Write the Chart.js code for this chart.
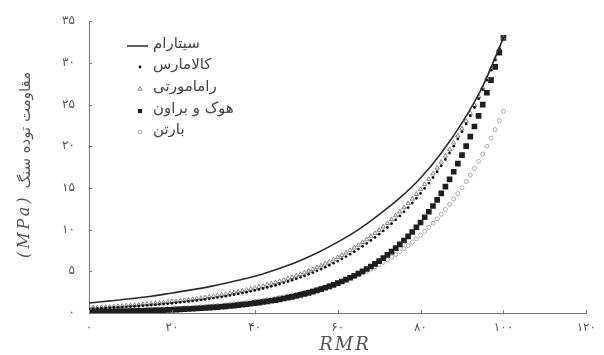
<!DOCTYPE html>
<html lang="fa">
<head>
  <meta charset="UTF-8">
  <title>RMR chart</title>
  <script src="https://cdn.jsdelivr.net/npm/chart.js"></script>
  <style>
    body {
      margin: 0;
      background: #fff;
    }
    #wrap {
      width: 604px;
      height: 355px;
    }
  </style>
</head>
<body>
  <div id="wrap"><canvas id="rmrChart" width="604" height="355"></canvas></div>

  <script>
    // RMR values (x) for the marker series
    const rmr = [
      0, 1, 2, 3, 4, 5, 6, 7, 8, 9,
      10, 11, 12, 13, 14, 15, 16, 17, 18, 19,
      20, 21, 22, 23, 24, 25, 26, 27, 28, 29,
      30, 31, 32, 33, 34, 35, 36, 37, 38, 39,
      40, 41, 42, 43, 44, 45, 46, 47, 48, 49,
      50, 51, 52, 53, 54, 55, 56, 57, 58, 59,
      60, 61, 62, 63, 64, 65, 66, 67, 68, 69,
      70, 71, 72, 73, 74, 75, 76, 77, 78, 79,
      80, 81, 82, 83, 84, 85, 86, 87, 88, 89,
      90, 91, 92, 93, 94, 95, 96, 97, 98, 99,
      100
    ];

    // Sitharam (solid line)
    const sitharamRmr = [0, 5, 10, 15, 20, 25, 30, 35, 40, 45, 50, 55, 60, 65, 70, 75, 80, 85, 90, 95, 100];
    const sitharam = [1.2, 1.45, 1.7, 2.0, 2.4, 2.8, 3.25, 3.8, 4.4, 5.2, 6.1, 7.2, 8.5, 10.0, 11.8, 13.8, 16.2, 19.2, 22.8, 27.2, 33.0];

    // Kalamaras (small dots)
    const kalamaras = [
      0.51, 0.53, 0.56, 0.58, 0.60, 0.63, 0.66, 0.68, 0.71, 0.74,
      0.78, 0.81, 0.84, 0.88, 0.92, 0.96, 1.00, 1.04, 1.08, 1.13,
      1.18, 1.23, 1.28, 1.33, 1.39, 1.45, 1.51, 1.57, 1.64, 1.71,
      1.78, 1.86, 1.94, 2.02, 2.11, 2.20, 2.29, 2.39, 2.49, 2.60,
      2.71, 2.82, 2.94, 3.07, 3.20, 3.33, 3.48, 3.62, 3.78, 3.94,
      4.11, 4.28, 4.46, 4.65, 4.85, 5.06, 5.27, 5.50, 5.73, 5.98,
      6.23, 6.50, 6.77, 7.06, 7.36, 7.67, 8.00, 8.34, 8.70, 9.07,
      9.45, 9.85, 10.27, 10.71, 11.17, 11.64, 12.14, 12.65, 13.19, 13.75,
      14.34, 14.95, 15.58, 16.25, 16.94, 17.66, 18.41, 19.19, 20.01, 20.86,
      21.75, 22.68, 23.64, 24.65, 25.70, 26.79, 27.93, 29.12, 30.36, 31.65,
      33.00
    ];

    // Ramamurthy (open triangles)
    const ramamurthy = [
      0.60, 0.63, 0.65, 0.68, 0.71, 0.74, 0.77, 0.80, 0.83, 0.87,
      0.90, 0.94, 0.98, 1.02, 1.06, 1.10, 1.15, 1.19, 1.24, 1.29,
      1.35, 1.40, 1.46, 1.52, 1.58, 1.64, 1.71, 1.78, 1.85, 1.93,
      2.01, 2.09, 2.17, 2.26, 2.36, 2.45, 2.55, 2.66, 2.76, 2.88,
      2.99, 3.12, 3.24, 3.38, 3.51, 3.66, 3.81, 3.96, 4.12, 4.29,
      4.47, 4.65, 4.84, 5.04, 5.24, 5.46, 5.68, 5.91, 6.15, 6.40,
      6.66, 6.94, 7.22, 7.51, 7.82, 8.14, 8.47, 8.82, 9.18, 9.55,
      9.94, 10.35, 10.77, 11.21, 11.67, 12.14, 12.64, 13.15, 13.69, 14.25,
      14.83, 15.43, 16.06, 16.72, 17.40, 18.11, 18.85, 19.62, 20.42, 21.25,
      22.12, 23.02, 23.96, 24.94, 25.96, 27.02, 28.12, 29.27, 30.46, 31.71,
      33.00
    ];

    // Hoek & Brown (filled squares)
    const hoekBrown = [
      0.13, 0.13, 0.14, 0.15, 0.16, 0.17, 0.18, 0.19, 0.20, 0.21,
      0.22, 0.23, 0.25, 0.26, 0.28, 0.29, 0.31, 0.33, 0.35, 0.37,
      0.39, 0.41, 0.43, 0.46, 0.48, 0.51, 0.54, 0.57, 0.60, 0.64,
      0.67, 0.71, 0.75, 0.80, 0.84, 0.89, 0.94, 1.00, 1.05, 1.11,
      1.18, 1.24, 1.32, 1.39, 1.47, 1.55, 1.64, 1.74, 1.84, 1.94,
      2.05, 2.17, 2.29, 2.42, 2.56, 2.71, 2.86, 3.03, 3.20, 3.38,
      3.58, 3.78, 4.00, 4.23, 4.47, 4.72, 4.99, 5.28, 5.58, 5.90,
      6.23, 6.59, 6.97, 7.36, 7.78, 8.23, 8.70, 9.20, 9.72, 10.28,
      10.86, 11.48, 12.14, 12.83, 13.57, 14.34, 15.16, 16.03, 16.94, 17.91,
      18.93, 20.01, 21.16, 22.37, 23.65, 25.00, 26.42, 27.93, 29.53, 31.22,
      33.00
    ];

    // Barton (open circles)
    const barton = [
      0.21, 0.22, 0.23, 0.24, 0.25, 0.26, 0.27, 0.29, 0.30, 0.32,
      0.33, 0.35, 0.36, 0.38, 0.40, 0.42, 0.44, 0.46, 0.48, 0.51,
      0.53, 0.56, 0.59, 0.62, 0.65, 0.68, 0.71, 0.75, 0.78, 0.82,
      0.86, 0.90, 0.95, 0.99, 1.04, 1.09, 1.15, 1.20, 1.26, 1.32,
      1.39, 1.45, 1.53, 1.60, 1.68, 1.76, 1.85, 1.94, 2.03, 2.13,
      2.23, 2.34, 2.46, 2.58, 2.70, 2.83, 2.97, 3.12, 3.27, 3.43,
      3.60, 3.77, 3.96, 4.15, 4.35, 4.57, 4.79, 5.02, 5.27, 5.53,
      5.80, 6.08, 6.38, 6.69, 7.01, 7.36, 7.72, 8.09, 8.49, 8.90,
      9.34, 9.79, 10.27, 10.77, 11.30, 11.85, 12.43, 13.03, 13.67, 14.33,
      15.03, 15.77, 16.54, 17.34, 18.19, 19.07, 20.00, 20.98, 22.00, 23.07,
      24.20
    ];

    const seriesNames = ["سیتارام", "کالامارس", "رامامورتی", "هوک و براون", "بارتن"];
    const yTitle = "مقاومت توده سنگ";
    const yUnit = "(MPa)";
    const xTitle = "RMR";

    const faDigits = "۰۱۲۳۴۵۶۷۸۹";
    const toFa = v => String(v).replace(/\d/g, d => faDigits[d]);
    const pts = (xs, ys) => xs.map((x, i) => ({ x, y: ys[i] }));

    const inkDark = "#2b2b2b";
    const inkText = "#444";
    const axisColor = "#777";

    const styles = [
      { type: "line" },
      { pointStyle: "circle", radius: 1.4, fill: "#111", stroke: "#111", bw: 0 },
      { pointStyle: "triangle", radius: 2.5, fill: "#fff", stroke: "#666", bw: 0.8 },
      { pointStyle: "rect", radius: 4, fill: "#1e1e1e", stroke: "#1e1e1e", bw: 0 },
      { pointStyle: "circle", radius: 2.0, fill: "#fff", stroke: "#999", bw: 0.8 }
    ];

    // inward tick marks, titles and legend drawn on the canvas
    const extras = {
      id: "extras",
      afterDraw(chart) {
        const { ctx, scales: { x, y } } = chart;
        ctx.save();
        ctx.strokeStyle = axisColor;
        ctx.lineWidth = 1;
        x.ticks.forEach(t => {
          const px = Math.round(x.getPixelForValue(t.value)) + 0.5;
          ctx.beginPath();
          ctx.moveTo(px, y.bottom);
          ctx.lineTo(px, y.bottom - 3);
          ctx.stroke();
        });
        y.ticks.forEach(t => {
          const py = Math.round(y.getPixelForValue(t.value)) + 0.5;
          ctx.beginPath();
          ctx.moveTo(x.left, py);
          ctx.lineTo(x.left + 3, py);
          ctx.stroke();
        });

        // x title
        ctx.fillStyle = "#555";
        ctx.font = "italic 18px 'DejaVu Serif'";
        ctx.textAlign = "center";
        ctx.textBaseline = "middle";
        ctx.letterSpacing = "2px";
        ctx.fillText(xTitle, 345, 345);

        // y title, rotated, read from bottom to top
        ctx.save();
        ctx.translate(25, 258);
        ctx.rotate(-Math.PI / 2);
        ctx.textAlign = "left";
        ctx.font = "italic 16px 'DejaVu Serif'";
        ctx.letterSpacing = "3px";
        ctx.fillText(yUnit, 0, 0);
        const w = ctx.measureText(yUnit).width;
        ctx.letterSpacing = "0px";
        ctx.font = "15px 'DejaVu Sans'";
        ctx.direction = "rtl";
        ctx.fillText(yTitle, w + 6, 1);
        ctx.restore();

        // legend
        const rows = [44, 65, 87, 109, 130];
        ctx.font = "15px 'DejaVu Sans'";
        ctx.fillStyle = inkText;
        ctx.direction = "rtl";
        ctx.textAlign = "left";
        ctx.letterSpacing = "0px";
        rows.forEach((ry, i) => ctx.fillText(seriesNames[i], 153, ry));
        ctx.direction = "ltr";
        ctx.strokeStyle = inkDark;
        ctx.lineWidth = 1.5;
        ctx.beginPath();
        ctx.moveTo(127, rows[0] + 2);
        ctx.lineTo(148, rows[0] + 2);
        ctx.stroke();
        for (let i = 1; i < styles.length; i++) {
          const s = styles[i];
          ctx.fillStyle = s.fill;
          ctx.strokeStyle = s.stroke;
          ctx.lineWidth = s.bw;
          Chart.helpers.drawPoint(ctx, {
            pointStyle: s.pointStyle,
            radius: i === 3 ? 3 : s.radius,
            rotation: 0,
            borderWidth: s.bw
          }, 140, rows[i] + 2);
        }
        ctx.restore();
      }
    };

    const markerSet = (label, ys, s) => ({
      label,
      data: pts(rmr, ys),
      showLine: false,
      pointStyle: s.pointStyle,
      pointRadius: s.radius,
      pointBackgroundColor: s.fill,
      pointBorderColor: s.stroke,
      pointBorderWidth: s.bw
    });

    const ctx = document.getElementById("rmrChart").getContext("2d");
    new Chart(ctx, {
      type: "scatter",
      data: {
        datasets: [
          {
            label: seriesNames[0],
            data: pts(sitharamRmr, sitharam),
            showLine: true,
            borderColor: inkDark,
            borderWidth: 1.6,
            pointRadius: 0,
            cubicInterpolationMode: "monotone"
          },
          markerSet(seriesNames[1], kalamaras, styles[1]),
          markerSet(seriesNames[2], ramamurthy, styles[2]),
          markerSet(seriesNames[3], hoekBrown, styles[3]),
          markerSet(seriesNames[4], barton, styles[4])
        ]
      },
      options: {
        responsive: false,
        animation: false,
        layout: {
          autoPadding: false,
          padding: { top: 18, right: 13, left: 0, bottom: 0 }
        },
        plugins: {
          legend: { display: false },
          tooltip: { enabled: false }
        },
        scales: {
          x: {
            type: "linear",
            min: 0,
            max: 120,
            grid: { display: false, drawTicks: false },
            border: { display: true, color: axisColor, width: 1 },
            ticks: {
              stepSize: 20,
              padding: 8,
              color: "#555",
              font: { family: "DejaVu Sans", size: 12 },
              callback: v => toFa(v)
            },
            afterFit: s => { s.height = 42; }
          },
          y: {
            type: "linear",
            min: 0,
            max: 35,
            grid: { display: false, drawTicks: false },
            border: { display: true, color: axisColor, width: 1 },
            ticks: {
              stepSize: 5,
              padding: 14,
              color: "#555",
              font: { family: "DejaVu Sans", size: 12 },
              callback: v => toFa(v)
            },
            afterFit: s => { s.width = 89; }
          }
        }
      },
      plugins: [extras]
    });
  </script>
</body>
</html>
